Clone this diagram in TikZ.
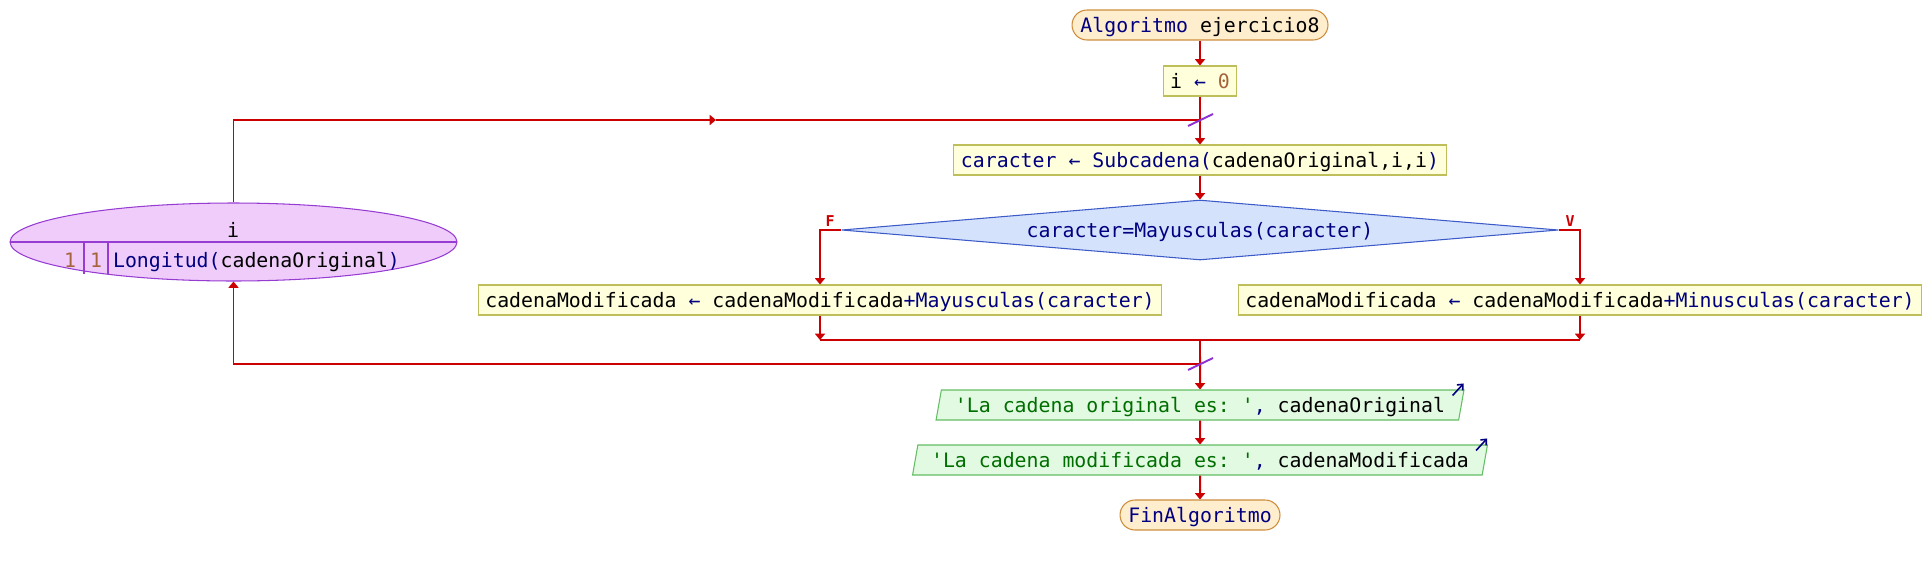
\documentclass[tikz,border=0pt]{standalone}
\usepackage{fontspec}
\setmonofont{DejaVu Sans Mono}
\usepackage{tikz}
\usetikzlibrary{shapes.geometric,arrows.meta,positioning}
\definecolor{flowred}{RGB}{204,0,0}
\definecolor{tickpurple}{RGB}{140,50,210}
\definecolor{kwblue}{RGB}{0,0,128}
\definecolor{numbrown}{RGB}{165,100,60}
\definecolor{strgreen}{RGB}{0,110,0}
\definecolor{termfill}{RGB}{255,238,206}
\definecolor{termdraw}{RGB}{205,140,60}
\definecolor{procfill}{RGB}{255,255,220}
\definecolor{procdraw}{RGB}{190,190,90}
\definecolor{condfill}{RGB}{212,226,252}
\definecolor{conddraw}{RGB}{60,90,200}
\definecolor{loopfill}{RGB}{240,204,250}
\definecolor{loopdraw}{RGB}{150,60,210}
\definecolor{outfill}{RGB}{226,250,226}
\definecolor{outdraw}{RGB}{100,190,100}
\newcommand{\codefont}{\ttfamily\fontsize{11.3}{13}\selectfont}
\newcommand{\kwd}[1]{\textcolor{kwblue}{#1}}
\newcommand{\numb}[1]{\textcolor{numbrown}{#1}}
\newcommand{\strg}[1]{\textcolor{strgreen}{#1}}
\tikzset{
    code/.style={inner sep=0pt, font=\codefont, text height=8.3pt, text depth=0pt},
    term/.style={code, rectangle, rounded corners=0.3cm, draw=termdraw, fill=termfill, line width=0.6pt, minimum height=0.6cm},
    proc/.style={code, rectangle, draw=procdraw, fill=procfill, line width=0.6pt, minimum height=0.6cm},
    test/.style={code, diamond, aspect=12, draw=conddraw, fill=condfill, line width=0.6pt, minimum width=14.34cm, minimum height=1.2cm},
    outp/.style={code, trapezium, trapezium left angle=70, trapezium right angle=110, trapezium stretches body, draw=outdraw, fill=outfill, line width=0.6pt, minimum height=0.6cm},
    loopnode/.style={ellipse, draw=loopdraw, fill=loopfill, line width=0.6pt, minimum width=8.94cm, minimum height=1.56cm, inner sep=0pt},
    branch/.style={inner sep=0pt, text=flowred, font=\ttfamily\bfseries\fontsize{8.5}{10}\selectfont},
    flow/.style={draw=flowred, line width=1.1pt, -{Triangle[width=5.7pt,length=3.6pt]}},
    flowline/.style={draw=flowred, line width=1.1pt},
    ticksign/.style={draw=tickpurple, line width=1.1pt},
    loopline/.style={draw=loopdraw, line width=0.6pt},
    outicon/.style={draw=kwblue, line width=0.9pt, -{Straight Barb[length=2.5pt,width=4.5pt]}},
}

\begin{document}
\begin{tikzpicture}[x=0.02cm, y=-0.02cm]
    \useasboundingbox (0,0) rectangle (1932,565);
    \node[term, minimum width=5.12cm] (start) at (1200,25) {\kwd{Algoritmo} ejercicio8};
    \node[proc, minimum width=1.46cm] (init) at (1200,81) {i \kwd{←} \numb{0}};
    \node[proc, minimum width=9.86cm] (sub) at (1200,160) {\kwd{caracter ← Subcadena(}cadenaOriginal,i,i\kwd{)}};
    \node[test] (cond) at (1200,230) {\kwd{caracter=Mayusculas(caracter)}};
    \node[branch] (flabel) at (830,221) {F};
    \node[branch] (vlabel) at (1570,221) {V};
    \node[proc, minimum width=13.68cm] (mayus) at (820,300) {cadenaModificada \kwd{←} cadenaModificada\kwd{+Mayusculas(caracter)}};
    \node[proc, minimum width=13.68cm] (minus) at (1580,300) {cadenaModificada \kwd{←} cadenaModificada\kwd{+Minusculas(caracter)}};
    \node[outp, minimum width=10.56cm] (out1) at (1200,405) {\strg{'La cadena original es: '}\kwd{,} cadenaOriginal};
    \node[outp, minimum width=11.5cm] (out2) at (1200,460) {\strg{'La cadena modificada es: '}\kwd{,} cadenaModificada};
    \node[term, minimum width=3.2cm] (fin) at (1200,515) {\kwd{FinAlgoritmo}};

    \node[loopnode] (loop) at (233.5,242) {};
    \draw[loopline] (loop.west) -- (loop.east);
    \draw[loopline] (84,243) -- (84,274);
    \draw[loopline] (108,243) -- (108,274);
    \node[code] (loopvar) at (233,230) {i};
    \node[code] (loopfrom) at (70,260) {\numb{1}};
    \node[code] (loopstep) at (96,260) {\numb{1}};
    \node[code] (loopto) at (256.5,260) {\kwd{Longitud(}cadenaOriginal\kwd{)}};

    \coordinate (topR) at (1200,120);
    \coordinate (midtop) at (716,120);
    \coordinate (joinL) at (820,340);
    \coordinate (joinC) at (1200,340);
    \coordinate (joinR) at (1580,340);
    \coordinate (loopR) at (1200,364);

    \foreach \a/\b in {start/init, init/sub, sub/cond, joinC/out1, out1/out2, out2/fin}
        \draw[flow] (\a) -- (\b);
    \draw[flow] (cond.west) -| (mayus.north);
    \draw[flow] (cond.east) -| (minus.north);
    \draw[flow] (mayus.south) -- (joinL);
    \draw[flow] (minus.south) -- (joinR);
    \draw[flowline] (joinL) -- (joinR);
    \draw[flow] (loopR) -| (loop.south);
    \draw[flow] (loop.north) |- (midtop);
    \draw[flowline] (midtop) -- (topR);
    \draw[ticksign] ([shift={(-12,6)}]topR) -- ([shift={(13,-6)}]topR);
    \draw[ticksign] ([shift={(-12,6)}]loopR) -- ([shift={(13,-6)}]loopR);
    \draw[outicon] ([shift={(-12,6)}]out1.top right corner) -- ([shift={(-1,-6)}]out1.top right corner);
    \draw[outicon] ([shift={(-12,6)}]out2.top right corner) -- ([shift={(-1,-6)}]out2.top right corner);
\end{tikzpicture}
\end{document}
